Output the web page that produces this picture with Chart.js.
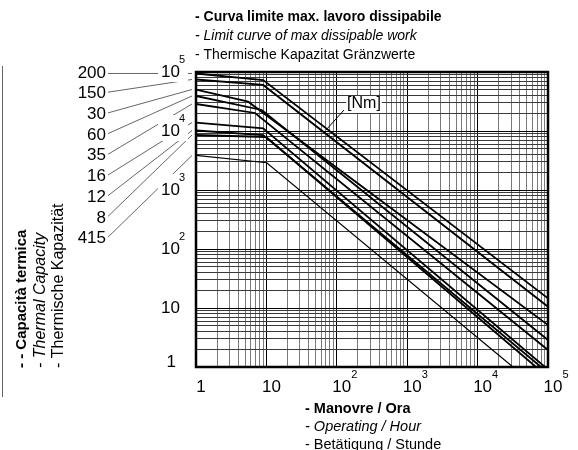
<!DOCTYPE html>
<html><head><meta charset="utf-8">
<script src="https://cdn.jsdelivr.net/npm/chart.js@4/dist/chart.umd.min.js"></script>
<style>html,body{margin:0;padding:0;background:#fff;overflow:hidden}</style>
</head><body>
<canvas id="c" width="578" height="450"></canvas>
<script>
// ---- data ----
const seriesNames = ['200','150','30','60','35','16','12','8','415'];
const xStart = [1,1,1,1,1,1,1,1,1];
const xKnee  = [9.0, 9.0, 5.5, 8.6, 6.9, 9.0, 9.0, 9.9, 10.1];
const xEnd   = [100000,100000,100000,100000,100000,90600,79500,67600,31800];
const yStart = [94400,74700,50500,39200,28700,13900,10200,8550,3850];
const yKnee  = [73100,60300,31400,22700,20200,11100,8550,7910,2900];
const yEnd   = [14.6,10.5,5.15,2.87,1.94,1,1,1,1];

const decadeValues = [1,10,100,1000,10000,100000];
const decadeBase   = ['1','10','10','10','10','10'];
const decadeExp    = ['','','2','3','4','5'];

const titleTop = ['- Curva limite max. lavoro dissipabile','- Limit curve of max dissipable work','- Thermische Kapazitat Gränzwerte'];
const titleX   = ['- Manovre / Ora','- Operating / Hour','- Betätigung / Stunde'];
const titleY   = ['- - Capacità termica','- Thermal Capacity','- Thermische Kapazität'];
const unitLabel = '[Nm]';

// ---- grid tick values (1..9 per decade) ----
const gridValues = [];
for (let d = 0; d < 5; d++) for (let m = 1; m < 10; m++) gridValues.push(m * Math.pow(10, d));
gridValues.push(100000);

const FF = '"Liberation Sans", Arial, sans-serif';

const datasets = seriesNames.map((n, i) => ({
  label: n,
  data: [{x: xStart[i], y: yStart[i]}, {x: xKnee[i], y: yKnee[i]}, {x: xEnd[i], y: yEnd[i]}],
  borderColor: '#000',
  borderWidth: i === 8 ? 1.2 : 1.8,
  pointRadius: 0,
  tension: 0,
  fill: false
}));

function isDecade(v){ const l = Math.log10(v); return Math.abs(l - Math.round(l)) < 1e-9; }

const decor = {
  id: 'decor',
  afterDraw(chart) {
    const c = chart.ctx, a = chart.chartArea;
    const xs = chart.scales.x, ys = chart.scales.y;
    c.save();
    // frame
    c.strokeStyle = '#000'; c.lineWidth = 2.5;
    c.strokeRect(a.left, a.top, a.right - a.left, a.bottom - a.top);

    // leader lines from series names to series start
    c.strokeStyle = '#555'; c.lineWidth = 0.9;
    const labTop = 73, labStep = 20.7;
    seriesNames.forEach((n, i) => {
      const ly = labTop + i * labStep;
      const ey = ys.getPixelForValue(yStart[i]);
      c.beginPath();
      c.moveTo(108, i === 0 ? ey : ly - 1.5);
      c.lineTo(a.left - 4, ey);
      c.stroke();
    });

    // y tick labels with white backing
    c.textBaseline = 'middle';
    decadeValues.forEach((v, i) => {
      const py = ys.getPixelForValue(v);
      if (decadeExp[i]) { c.fillStyle = '#fff'; c.fillRect(158, py - 16, 30, 26); }
      c.fillStyle = '#000';
      c.font = '17px ' + FF;
      c.textAlign = 'right';
      if (v === 1) c.fillText(decadeBase[i], 176, py - 4.5);
      else c.fillText(decadeBase[i], 180, py);
      if (decadeExp[i]) {
        c.font = '11px ' + FF; c.textAlign = 'left';
        c.fillText(decadeExp[i], 179, py - 12);
      }
    });
    // x tick labels
    decadeValues.forEach((v, i) => {
      const px = xs.getPixelForValue(v) + 5;
      c.fillStyle = '#000';
      c.font = '17px ' + FF; c.textAlign = 'center';
      c.fillText(decadeBase[i], px, 387);
      if (decadeExp[i]) {
        const w = c.measureText(decadeBase[i]).width;
        c.font = '11px ' + FF; c.textAlign = 'left';
        c.fillText(decadeExp[i], px + w / 2, 375);
      }
    });

    // series names at left
    c.font = '17px ' + FF; c.textAlign = 'right'; c.fillStyle = '#000';
    seriesNames.forEach((n, i) => c.fillText(n, 106, labTop + i * labStep));

    // top title
    c.textAlign = 'left';
    c.font = 'bold 14px ' + FF; c.fillText(titleTop[0], 195, 17);
    c.font = 'italic 14px ' + FF; c.fillText(titleTop[1], 195, 36);
    c.font = '14px ' + FF; c.fillText(titleTop[2], 195, 55);

    // x title
    c.font = 'bold 14.5px ' + FF; c.fillText(titleX[0], 305, 409);
    c.font = 'italic 14.5px ' + FF; c.fillText(titleX[1], 305, 427);
    c.font = '14.5px ' + FF; c.fillText(titleX[2], 305, 445);

    // y title (rotated)
    const yx = [22, 41, 59];
    const yf = ['bold 15px ', 'italic 16px ', '16px '];
    titleY.forEach((t, i) => {
      c.save();
      c.translate(yx[i], 368);
      c.rotate(-Math.PI / 2);
      c.font = yf[i] + FF; c.textAlign = 'left'; c.textBaseline = 'middle';
      c.fillText(t, 0, 0);
      c.restore();
    });

    // left bracket line
    c.strokeStyle = '#666'; c.lineWidth = 1;
    c.beginPath(); c.moveTo(2.5, 66); c.lineTo(2.5, 397); c.stroke();

    // unit label with leader
    c.strokeStyle = '#000'; c.lineWidth = 1;
    c.beginPath(); c.moveTo(344, 110); c.lineTo(326, 130); c.stroke();
    c.font = '16px ' + FF; c.textAlign = 'center'; c.textBaseline = 'middle';
    c.fillStyle = '#fff';
    const uw = c.measureText(unitLabel).width;
    c.fillRect(364 - uw / 2 - 1, 96, uw + 2, 17);
    c.fillStyle = '#000';
    c.fillText(unitLabel, 364, 104);
    c.restore();
  }
};

new Chart(document.getElementById('c'), {
  type: 'line',
  data: { datasets },
  options: {
    responsive: false,
    animation: false,
    parsing: true,
    layout: { padding: { left: 196, top: 72, right: 30, bottom: 83 } },
    plugins: { legend: { display: false }, tooltip: { enabled: false } },
    scales: {
      x: {
        type: 'logarithmic', min: 1, max: 100000,
        afterBuildTicks: s => { s.ticks = gridValues.map(v => ({ value: v })); },
        afterFit: s => { s.height = 0; },
        ticks: { display: false },
        border: { display: false },
        grid: { drawTicks: false, lineWidth: 1,
          color: ctx => (ctx.tick && isDecade(ctx.tick.value)) ? '#000' : '#7a7a7a' }
      },
      y: {
        type: 'logarithmic', min: 1, max: 100000,
        afterBuildTicks: s => { s.ticks = gridValues.map(v => ({ value: v })); },
        afterFit: s => { s.width = 0; },
        ticks: { display: false },
        border: { display: false },
        grid: { drawTicks: false, lineWidth: 1,
          color: ctx => (ctx.tick && isDecade(ctx.tick.value)) ? '#000' : '#3a3a3a' }
      }
    }
  },
  plugins: [decor]
});
</script>
</body></html>
